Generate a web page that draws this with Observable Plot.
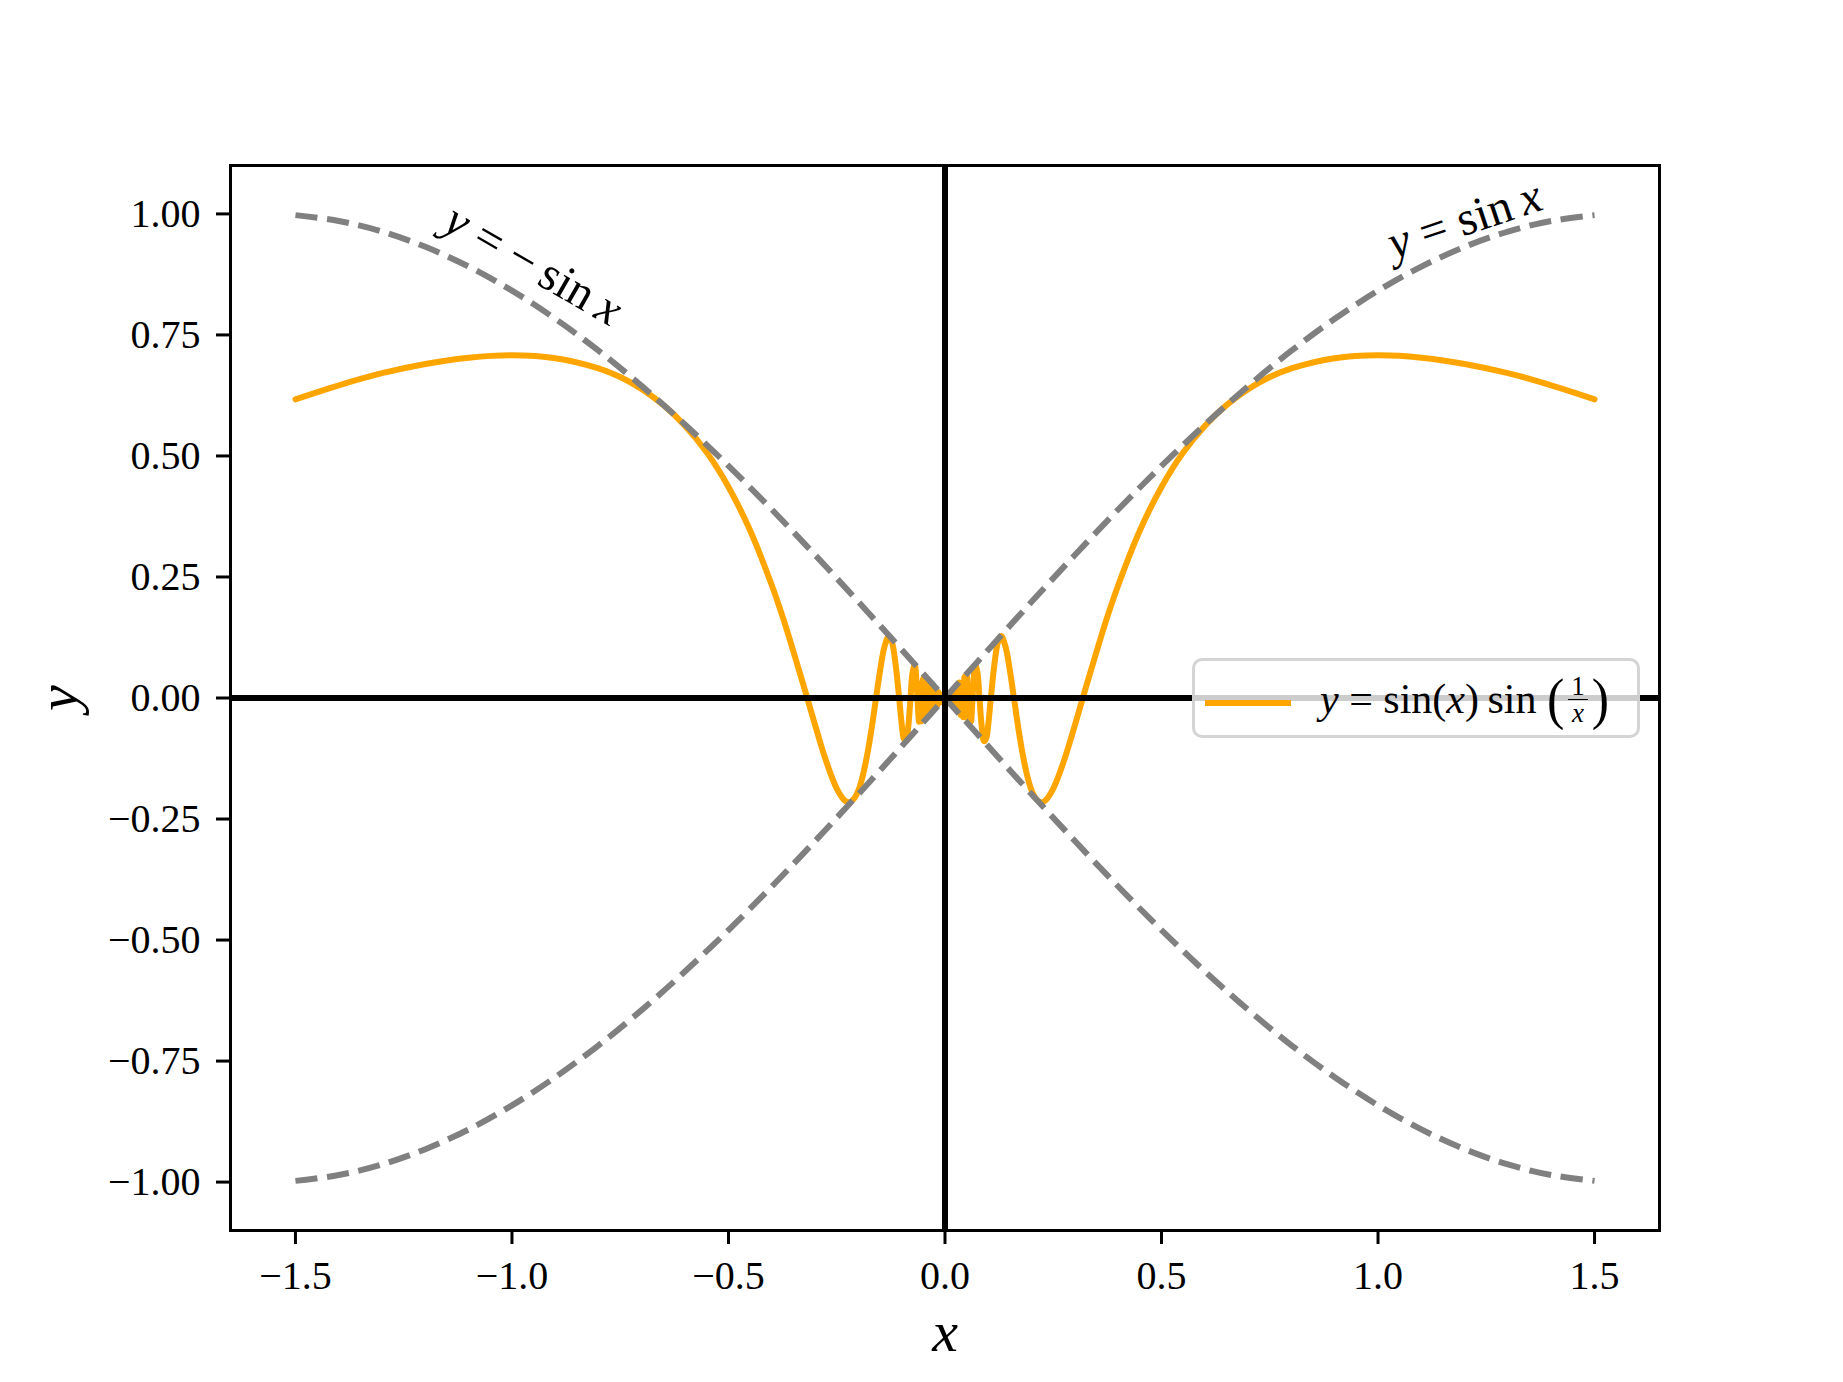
<!DOCTYPE html>
<html><head><meta charset="utf-8">
<script src="https://cdn.jsdelivr.net/npm/d3@7"></script>
<script src="https://cdn.jsdelivr.net/npm/@observablehq/plot@0.6"></script>
<style>
html,body{margin:0;padding:0;background:#fff;}
#wrap{position:relative;width:1843px;height:1382px;font-family:"Liberation Serif",serif;}
#legend{position:absolute;left:1192px;top:658px;width:448px;height:80px;box-sizing:border-box;border:3px solid rgba(204,204,204,0.85);border-radius:10px;background:rgba(255,255,255,0.8);}
#legend .swatch{position:absolute;left:10px;top:39px;width:86px;height:6px;background:#FFA500;}
#legend .lab{position:absolute;left:125px;top:8px;font-size:42px;line-height:60px;white-space:nowrap;display:flex;align-items:center;color:#000;}
#legend i{font-style:italic;}
#legend .paren{font-size:52px;line-height:52px;transform:scaleY(1.1);display:inline-block;}
#legend .frac{display:inline-flex;flex-direction:column;align-items:center;font-size:27px;line-height:26px;margin:0 4px;}
#legend .frac .num{border-bottom:1.5px solid #000;padding:0 3px;}
</style></head><body><div id="wrap"></div>
<script>
// Orange curve y = sin(x) sin(1/x)
const curveX = [-1.5,-1.4,-1.3,-1.2,-1.1,-1.0,-0.9,-0.8,-0.75,-0.7,-0.65,-0.6,-0.55,-0.5,-0.45,-0.4,-0.375,-0.35,-0.325,-0.3,-0.275,-0.25,-0.23,-0.22,-0.21,-0.2,-0.19,-0.18,-0.17,-0.16,-0.15,-0.14,-0.13,-0.125,-0.12,-0.115,-0.11,-0.105,-0.1,-0.095,-0.09,-0.085,-0.08,-0.075,-0.07,-0.065,-0.06,
  -0.057,-0.054,-0.051,-0.048,-0.045,-0.042,-0.039,-0.036,-0.033,-0.030,-0.027,-0.024,-0.021,-0.018,-0.015,-0.012,-0.009,-0.006,-0.003,
  0.001,0.003,0.006,0.009,0.012,0.015,0.018,0.021,0.024,0.027,0.030,0.033,0.036,0.039,0.042,0.045,0.048,0.051,0.054,0.057,
  0.06,0.065,0.07,0.075,0.08,0.085,0.09,0.095,0.1,0.105,0.11,0.115,0.12,0.125,0.13,0.14,0.15,0.16,0.17,0.18,0.19,0.2,0.21,0.22,0.23,0.25,0.275,0.3,0.325,0.35,0.375,0.4,0.45,0.5,0.55,0.6,0.65,0.7,0.75,0.8,0.9,1.0,1.1,1.2,1.3,1.4,1.5];
const curveY = [0.617,0.646,0.671,0.690,0.703,0.708,0.702,0.681,0.663,0.638,0.605,0.562,0.507,0.436,0.346,0.233,0.168,0.096,0.021,-0.056,-0.129,-0.187,-0.213,-0.215,-0.208,-0.191,-0.161,-0.119,-0.066,-0.005,0.056,0.105,0.128,0.123,0.106,0.076,0.037,-0.008,-0.054,-0.084,-0.089,-0.061,-0.005,0.052,0.069,0.021,-0.049,
  0.030,-0.048,0.040,-0.042,0.036,-0.038,0.034,-0.030,0.030,-0.026,0.024,-0.020,0.018,-0.016,0.012,-0.010,0.007,-0.005,0.002,
  -0.001,0.002,-0.005,0.008,-0.010,0.014,-0.017,0.015,-0.023,0.026,-0.022,0.032,-0.035,0.030,-0.040,0.044,-0.030,0.045,-0.050,0.020,
  -0.049,0.021,0.069,0.052,-0.005,-0.061,-0.089,-0.084,-0.054,-0.008,0.037,0.076,0.106,0.123,0.128,0.105,0.056,-0.005,-0.066,-0.119,-0.161,-0.191,-0.208,-0.215,-0.213,-0.187,-0.129,-0.056,0.021,0.096,0.168,0.233,0.346,0.436,0.507,0.562,0.605,0.638,0.663,0.681,0.702,0.708,0.703,0.690,0.671,0.646,0.617];

// Gray dashed envelopes y = sin x and y = -sin x
const sinX = [-1.5,-1.4,-1.3,-1.2,-1.1,-1.0,-0.9,-0.8,-0.7,-0.6,-0.5,-0.4,-0.3,-0.2,-0.1,0,0.1,0.2,0.3,0.4,0.5,0.6,0.7,0.8,0.9,1.0,1.1,1.2,1.3,1.4,1.5];
const sinY = [-0.9975,-0.9854,-0.9636,-0.9320,-0.8912,-0.8415,-0.7833,-0.7174,-0.6442,-0.5646,-0.4794,-0.3894,-0.2955,-0.1987,-0.0998,0,0.0998,0.1987,0.2955,0.3894,0.4794,0.5646,0.6442,0.7174,0.7833,0.8415,0.8912,0.9320,0.9636,0.9854,0.9975];
const negSinY = [0.9975,0.9854,0.9636,0.9320,0.8912,0.8415,0.7833,0.7174,0.6442,0.5646,0.4794,0.3894,0.2955,0.1987,0.0998,0,-0.0998,-0.1987,-0.2955,-0.3894,-0.4794,-0.5646,-0.6442,-0.7174,-0.7833,-0.8415,-0.8912,-0.9320,-0.9636,-0.9854,-0.9975];

const xTicks = [-1.5,-1.0,-0.5,0,0.5,1.0,1.5];
const yTicks = [-1.0,-0.75,-0.5,-0.25,0,0.25,0.5,0.75,1.0];

// Annotations
const annoX = [-0.950, 1.200];
const annoY = [0.895, 0.988];
const annoText = ["y = −sin x", "y = sin x"];
const annoAngle = [30, -18.5];

const curveData = curveX.map((x, i) => ({x, y: curveY[i]}));
const sinData = sinX.map((x, i) => ({x, y: sinY[i]}));
const negSinData = sinX.map((x, i) => ({x, y: negSinY[i]}));
const annoData = annoText.map((t, i) => ({x: annoX[i], y: annoY[i], t, a: annoAngle[i]}));

const fmtX = v => d3.format(".1f")(v);
const fmtY = v => d3.format(".2f")(v);

const chart = Plot.plot({
  width: 1843, height: 1382,
  marginLeft: 230, marginRight: 184, marginTop: 165, marginBottom: 152,
  x: {domain: [-1.65, 1.65]},
  y: {domain: [-1.1, 1.1]},
  style: {fontFamily: "'Liberation Serif', serif", fontSize: "40px", color: "#000", background: "#fff"},
  marks: [
    Plot.axisX({ticks: xTicks, tickFormat: fmtX, tickSize: 14, tickPadding: 16, strokeWidth: 3, fontSize: 40, label: null}),
    Plot.axisY({ticks: yTicks, tickFormat: fmtY, tickSize: 14, tickPadding: 16, strokeWidth: 3, fontSize: 40, label: null}),
    Plot.line(curveData, {x: "x", y: "y", stroke: "#FFA500", strokeWidth: 6, curve: "catmull-rom"}),
    Plot.line(sinData, {x: "x", y: "y", stroke: "#808080", strokeWidth: 6, strokeDasharray: "22.2,9.6", strokeLinecap: "butt", curve: "catmull-rom"}),
    Plot.line(negSinData, {x: "x", y: "y", stroke: "#808080", strokeWidth: 6, strokeDasharray: "22.2,9.6", strokeLinecap: "butt", curve: "catmull-rom"}),
    Plot.ruleX([0], {stroke: "#000", strokeWidth: 6}),
    Plot.ruleY([0], {stroke: "#000", strokeWidth: 6}),
    Plot.frame({stroke: "#000", strokeWidth: 3}),
    Plot.text(annoData, {x: "x", y: "y", text: "t", rotate: "a", fontSize: 48, textAnchor: "middle", lineAnchor: "middle", fill: "#000"}),
    Plot.text(["x"], {frameAnchor: "bottom", dy: 102, text: d => d, fontSize: 58, fontStyle: "italic", textAnchor: "middle", lineAnchor: "middle"}),
    Plot.text(["y"], {frameAnchor: "left", dx: -172, rotate: -90, text: d => d, fontSize: 58, fontStyle: "italic", textAnchor: "middle", lineAnchor: "middle"})
  ]
});

// math-style italics and spacing for the annotation variables
chart.querySelectorAll("text").forEach(t => {
  const s = t.textContent;
  if (s === "y = −sin x") t.innerHTML = '<tspan font-style="italic">y</tspan>\u2005=\u2005−\u2009sin\u2009<tspan font-style="italic">x</tspan>';
  else if (s === "y = sin x") t.innerHTML = '<tspan font-style="italic">y</tspan>\u2005=\u2005sin\u2009<tspan font-style="italic">x</tspan>';
});

const wrap = document.getElementById("wrap");
wrap.appendChild(chart);

const legend = document.createElement("div");
legend.id = "legend";
legend.innerHTML = '<span class="swatch"></span><span class="lab"><i>y</i>&#x2005;=&#x2005;sin(<i>x</i>)&thinsp;sin&nbsp;<span class="paren">(</span><span class="frac"><span class="num">1</span><span><i>x</i></span></span><span class="paren">)</span></span>';
wrap.appendChild(legend);
</script>
</body></html>
